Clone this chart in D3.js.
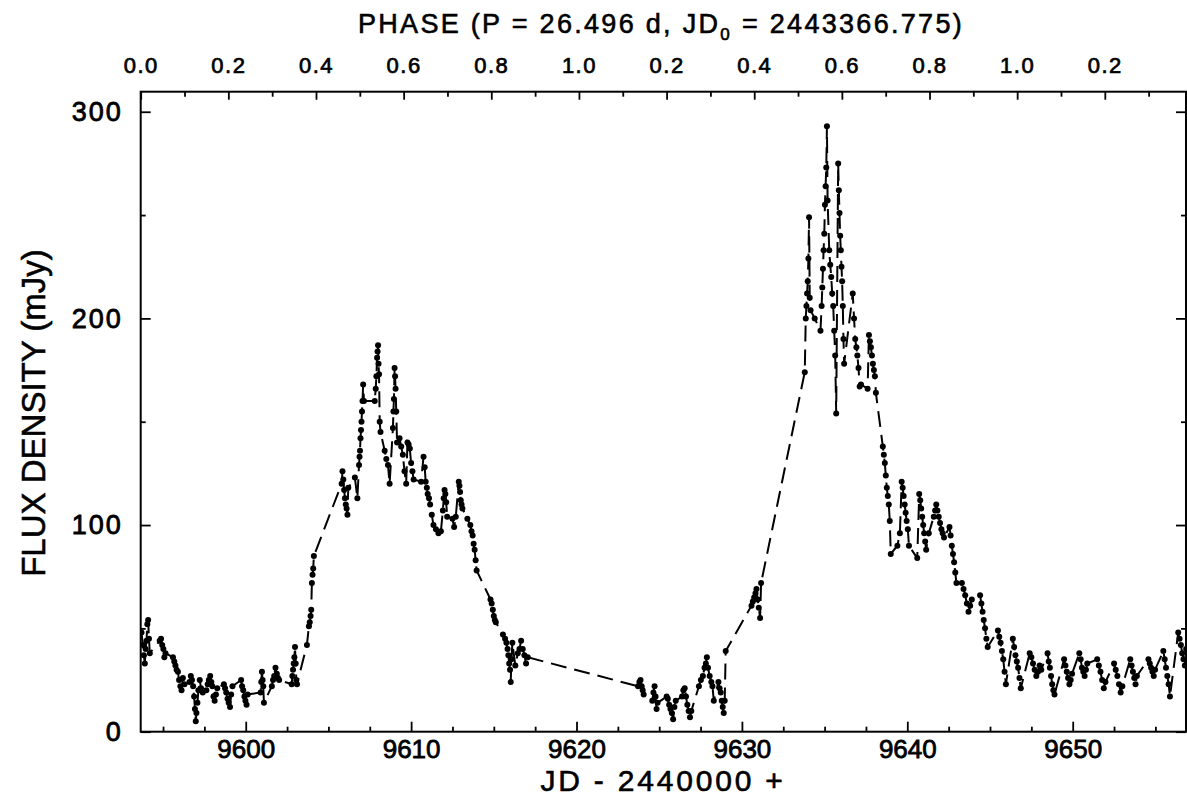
<!DOCTYPE html>
<html>
<head>
<meta charset="utf-8">
<script src="https://cdn.jsdelivr.net/npm/d3@7"></script>
<style>
  body { margin: 0; background: #fff; }
  text { font-family: "Liberation Sans", Arial, sans-serif; fill: #000; }
</style>
</head>
<body>
<div id="chart"></div>
<script>
const jd = [
  9593.70, 9593.78, 9593.84, 9593.90, 9593.95, 9594.00, 9594.05, 9594.10, 9594.15, 9594.20,
  9594.80, 9594.88, 9594.95, 9595.02, 9595.08, 9595.15,
  9595.60, 9595.68, 9595.75, 9595.82, 9595.90, 9595.97, 9596.05, 9596.12, 9596.20, 9596.30,
  9596.60, 9596.68, 9596.75, 9596.82, 9596.88, 9596.93, 9596.98, 9597.02, 9597.08, 9597.14, 9597.22, 9597.30, 9597.40,
  9597.62, 9597.70, 9597.77, 9597.85, 9597.92, 9597.98, 9598.05, 9598.12, 9598.20, 9598.28,
  9598.68, 9598.75, 9598.82, 9598.90, 9598.97, 9599.05, 9599.12, 9599.20,
  9599.72, 9599.78, 9599.85, 9599.92, 9599.98, 9600.05, 9600.12,
  9600.90, 9600.94, 9600.98, 9601.02, 9601.06, 9601.10,
  9601.58, 9601.65, 9601.72, 9601.80, 9601.88, 9601.95, 9602.02,
  9602.78, 9602.82, 9602.86, 9602.90, 9602.94, 9602.98, 9603.02, 9603.06, 9603.10,
  9603.70, 9603.82, 9603.87, 9603.92, 9603.96, 9604.00, 9604.04, 9604.08, 9604.12,
  9605.80, 9605.85, 9605.90, 9605.95, 9606.00, 9606.05, 9606.10, 9606.15, 9606.20,
  9606.60, 9606.75, 9606.85, 9606.88, 9606.91, 9606.94, 9606.97, 9607.00, 9607.03, 9607.06, 9607.10, 9607.15,
  9607.80, 9607.86, 9607.90, 9607.94, 9607.97, 9608.00, 9608.03, 9608.06, 9608.10, 9608.15,
  9608.40, 9608.50, 9608.60, 9608.70,
  9608.90, 9608.93, 9608.96, 9609.00, 9609.03, 9609.06, 9609.10, 9609.15,
  9609.30, 9609.40, 9609.50, 9609.60, 9609.70, 9609.78, 9609.85, 9609.92, 9610.00, 9610.08, 9610.15,
  9610.60, 9610.75, 9610.82, 9610.88, 9610.95, 9611.00,
  9611.08, 9611.15, 9611.25, 9611.35, 9611.50, 9611.65, 9611.80,
  9611.92, 9611.97, 9612.02, 9612.07, 9612.12, 9612.18,
  9612.50, 9612.60, 9612.70,
  9612.88, 9612.92, 9612.96, 9613.00, 9613.05, 9613.10,
  9613.40, 9613.58, 9613.65, 9613.72, 9613.78, 9613.84, 9613.90, 9613.96,
  9614.80, 9614.87, 9614.94, 9615.00, 9615.06, 9615.12,
  9615.55, 9615.68, 9615.76, 9615.83, 9615.88, 9615.93, 9615.98, 9616.02, 9616.07, 9616.12,
  9616.30, 9616.45, 9616.55, 9616.65, 9616.75, 9616.85, 9616.95, 9617.05,
  9623.72, 9623.80, 9623.87, 9623.94, 9624.00, 9624.06,
  9624.58, 9624.65, 9624.72, 9624.78, 9624.84, 9624.90,
  9625.45, 9625.52, 9625.60, 9625.68, 9625.76, 9625.84, 9625.92, 9626.00,
  9626.38, 9626.46, 9626.54, 9626.62, 9626.70, 9626.78, 9626.86, 9626.94,
  9627.40, 9627.52, 9627.64, 9627.74, 9627.82, 9627.88, 9627.95, 9628.05, 9628.15, 9628.22, 9628.30,
  9628.58, 9628.65, 9628.72, 9628.78, 9628.84, 9628.90, 9628.96, 9629.02,
  9630.58, 9630.66, 9630.74, 9630.82, 9630.88, 9630.95, 9631.02, 9631.10, 9631.16,
  9633.80, 9633.86, 9633.90, 9633.94, 9633.98, 9634.02, 9634.06, 9634.10, 9634.15,
  9634.40, 9634.75,
  9634.82, 9634.86, 9634.90, 9634.94, 9634.98, 9635.02, 9635.06, 9635.10, 9635.14, 9635.18,
  9635.28, 9635.34, 9635.40, 9635.46, 9635.52, 9635.58, 9635.64, 9635.70,
  9635.82, 9635.86, 9635.90, 9635.94, 9635.98, 9636.02, 9636.06, 9636.10, 9636.14, 9636.18,
  9636.70, 9636.78, 9636.85, 9636.92, 9636.98, 9637.05, 9637.12, 9637.20,
  9637.60, 9637.68, 9637.74, 9637.80, 9637.86, 9637.92, 9637.98, 9638.04, 9638.10,
  9638.52, 9638.58, 9638.64, 9638.70, 9638.76, 9638.82, 9638.88, 9638.94, 9639.00,
  9639.40, 9639.55, 9639.66, 9639.72, 9639.78, 9639.84, 9639.90, 9639.96, 9640.03, 9640.10,
  9640.60, 9640.72, 9640.78, 9640.84, 9640.90, 9640.96, 9641.02, 9641.08, 9641.14, 9641.30,
  9641.60, 9641.68, 9641.75, 9641.82, 9641.90, 9641.98, 9642.06, 9642.14, 9642.22,
  9642.55, 9642.62, 9642.69, 9642.76, 9642.83, 9642.90, 9642.97,
  9643.30, 9643.40, 9643.50, 9643.60, 9643.70, 9643.80, 9643.90,
  9644.40, 9644.48, 9644.55, 9644.62, 9644.70, 9644.78, 9644.86,
  9645.48, 9645.56, 9645.64, 9645.72, 9645.80, 9645.88, 9645.96,
  9646.38, 9646.46, 9646.54, 9646.62, 9646.70, 9646.78, 9646.86,
  9647.40, 9647.50, 9647.60, 9647.70, 9647.80, 9647.90, 9648.00, 9648.10,
  9648.48, 9648.55, 9648.62, 9648.69, 9648.76, 9648.83, 9648.90,
  9649.48, 9649.56, 9649.64, 9649.72, 9649.80, 9649.88, 9649.96,
  9650.40, 9650.48, 9650.56, 9650.64, 9650.72, 9650.80, 9650.88,
  9651.48, 9651.58, 9651.68, 9651.78, 9651.88, 9651.98,
  9652.50, 9652.60, 9652.70, 9652.80, 9652.90, 9653.00,
  9653.48, 9653.56, 9653.64, 9653.72, 9653.80, 9653.88,
  9654.58, 9654.66, 9654.74, 9654.82, 9654.90, 9654.98,
  9655.48, 9655.56, 9655.64, 9655.72, 9655.80, 9655.88,
  9656.38, 9656.46, 9656.54, 9656.62, 9656.70, 9656.78, 9656.86
];
// flux density (mJy), same layout as jd
const flux = [
  48, 42, 37, 33, 40, 44, 52, 54, 45, 38,
  44, 45, 42, 40, 36, 38,
  36, 34, 32, 30, 29, 25, 22, 20, 26, 23,
  24, 27, 25, 22, 17, 11, 5, 9, 14, 20, 25, 21, 19,
  20, 23, 25, 27, 24, 22, 17, 15, 18, 21,
  23, 21, 19, 16, 14, 12, 18, 22,
  25, 22, 20, 17, 15, 13, 18,
  19, 24, 29, 25, 22, 14,
  22, 25, 27, 31, 28, 26, 25,
  23, 27, 30, 33, 36, 41, 33, 25, 23,
  42, 51, 53, 56, 59, 72, 76, 79, 85,
  120, 126, 122, 117, 113, 110, 108, 105, 118,
  123, 113, 129, 133, 136, 142, 146, 150, 155, 160, 168, 160,
  160, 166, 172, 181, 184, 187, 178, 173, 150, 145,
  136, 132, 129, 120,
  147, 155, 161, 176, 172, 166, 155, 140,
  142, 138, 134, 126, 120, 140, 139, 137, 130, 126, 122,
  121, 133, 128, 121, 118, 115,
  113, 110, 105, 100, 98, 96, 97,
  107, 113, 117, 115, 111, 104,
  103, 99, 104,
  121, 119, 116, 112, 110, 108,
  103, 100, 97, 95, 91, 88, 83, 78,
  64, 62, 59, 56, 54, 53,
  47, 45, 43, 40, 37, 33, 30, 24, 35, 43,
  32, 38, 40, 44, 40, 37, 33, 36,
  22, 24, 25, 22, 20, 18,
  15, 19, 22, 17, 11, 14,
  17, 16, 13, 11, 9, 6, 12, 15,
  17, 20, 21, 17, 13, 10, 7, 10,
  22, 25, 27, 31, 33, 36, 31, 27, 24, 22, 15,
  24, 21, 19, 15, 12, 9, 15, 39,
  61, 63, 65, 67, 69, 64, 60, 55, 72,
  174, 200, 206, 212, 218, 229, 249, 210, 204,
  200, 194,
  206, 215, 224, 233, 241, 255, 264, 273, 293, 257,
  233, 226, 220, 212, 206, 194, 182, 154,
  275, 262, 251, 240, 233, 225, 218, 206, 190, 178,
  212, 200, 190, 186, 182, 176, 167, 168,
  166, 192, 189, 186, 182, 178, 175, 172, 164,
  138, 134, 130, 124, 118, 114, 110, 102, 86,
  90, 96, 121, 118, 114, 110, 106, 102, 98, 90,
  84, 115, 112, 108, 104, 100, 96, 92, 88, 96,
  104, 107, 110, 107, 104, 101, 98, 96, 94,
  99, 95, 90, 86, 82, 77, 72,
  72, 69, 66, 62, 58, 61, 64,
  66, 62, 58, 54, 50, 45, 41,
  49, 46, 43, 39, 35, 29, 23,
  45, 41, 37, 34, 31, 26, 21,
  38, 36, 33, 30, 27, 29, 32, 30,
  38, 34, 31, 27, 23, 20, 18,
  35, 32, 29, 26, 23, 25, 28,
  38, 35, 31, 29, 27, 30, 33,
  35, 32, 29, 25, 21, 24,
  33, 30, 27, 23, 19, 22,
  35, 32, 29, 26, 23, 27,
  35, 33, 31, 29, 27, 30,
  39, 35, 31, 27, 23, 17,
  48, 45, 42, 38, 35, 32, 40
];

const xDomain = [9593.65, 9656.85];
const yDomain = [0, 309.7];
const xMajor = [9600, 9610, 9620, 9630, 9640, 9650];
const yMajor = [0, 100, 200, 300];
const yMinor = [50, 150, 250];
const period = 26.496;

const data = jd.map((d, i) => ({ jd: d, flux: flux[i] }));

const W = 1187, H = 798;
const margin = { top: 91.7, right: 1, bottom: 66.3, left: 140.7 };
const width = W - margin.left - margin.right;
const height = H - margin.top - margin.bottom;

const svg = d3.select("#chart").append("svg")
    .attr("width", W)
    .attr("height", H);

const g = svg.append("g")
    .attr("transform", "translate(" + margin.left + "," + margin.top + ")");

const x = d3.scaleLinear().domain(xDomain).range([0, width]);
const y = d3.scaleLinear().domain(yDomain).range([height, 0]);
const phase = d3.scaleLinear()
    .domain([0, (xDomain[1] - xDomain[0]) / period])
    .range([0, width]);

g.append("clipPath").attr("id", "clip")
  .append("rect").attr("width", width).attr("height", height);

// minor x ticks every 2.5 days
const xMinor = d3.range(9595, 9657, 2.5).filter(v => xMajor.indexOf(v) < 0);

const axisStyle = sel => {
  sel.select(".domain").remove();
  sel.selectAll("line").attr("stroke", "#000").attr("stroke-width", 1.8);
  sel.selectAll("text")
      .style("font-size", "26px")
      .attr("stroke", "#000").attr("stroke-width", 0.8);
};

// bottom axis
g.append("g")
    .attr("transform", "translate(0," + height + ")")
    .call(d3.axisBottom(x).tickValues(xMajor).tickSize(-10).tickPadding(8).tickFormat(d3.format("d")))
    .call(axisStyle);
g.append("g")
    .attr("transform", "translate(0," + height + ")")
    .call(d3.axisBottom(x).tickValues(xMinor).tickSize(-5).tickFormat(""))
    .call(axisStyle);

// left axis
g.append("g")
    .call(d3.axisLeft(y).tickValues(yMajor).tickSize(-10).tickPadding(18))
    .call(axisStyle)
    .call(s => s.selectAll("text").style("font-size", "27px").style("letter-spacing", "2px"));
g.append("g")
    .call(d3.axisLeft(y).tickValues(yMinor).tickSize(-5).tickFormat(""))
    .call(axisStyle);

// right axis (ticks only)
g.append("g")
    .attr("transform", "translate(" + width + ",0)")
    .call(d3.axisRight(y).tickValues(yMajor).tickSize(-10).tickFormat(""))
    .call(axisStyle);
g.append("g")
    .attr("transform", "translate(" + width + ",0)")
    .call(d3.axisRight(y).tickValues(yMinor).tickSize(-5).tickFormat(""))
    .call(axisStyle);

// top phase axis
const phaseTicks = d3.range(0, phase.domain()[1], 0.1).map(v => Math.round(v * 10) / 10);
const phaseMajor = phaseTicks.filter(v => Math.round(v * 10) % 2 === 0);
const phaseMinor = phaseTicks.filter(v => Math.round(v * 10) % 2 !== 0);
const phaseLabel = p => {
  if (p === 0) return "0.0";
  const f = Math.round((p - Math.floor(p)) * 10) / 10;
  return f === 0 ? "1.0" : f.toFixed(1);
};
g.append("g")
    .call(d3.axisTop(phase).tickValues(phaseMajor).tickSize(-8).tickPadding(19).tickFormat(phaseLabel))
    .call(axisStyle)
    .call(s => s.selectAll("text").style("font-size", "22px").style("letter-spacing", "1.5px").attr("stroke-width", 0.7));
g.append("g")
    .call(d3.axisTop(phase).tickValues(phaseMinor).tickSize(-5).tickFormat(""))
    .call(axisStyle);

// frame
g.append("rect")
    .attr("width", width)
    .attr("height", height)
    .attr("fill", "none")
    .attr("stroke", "#000")
    .attr("stroke-width", 2);

// light curve
const line = d3.line()
    .x(d => x(d.jd))
    .y(d => y(d.flux));

const plot = g.append("g").attr("clip-path", "url(#clip)");

plot.append("path")
    .datum(data)
    .attr("d", line)
    .attr("fill", "none")
    .attr("stroke", "#000")
    .attr("stroke-width", 2)
    .attr("stroke-dasharray", "16,8");

plot.selectAll("circle")
    .data(data)
  .enter().append("circle")
    .attr("cx", d => x(d.jd))
    .attr("cy", d => y(d.flux))
    .attr("r", 3)
    .attr("fill", "#000");

// titles
const title = svg.append("text")
    .attr("x", 661)
    .attr("y", 33)
    .attr("text-anchor", "middle")
    .style("font-size", "27px")
    .style("letter-spacing", "2.3px")
    .attr("stroke", "#000").attr("stroke-width", 0.6);
title.append("tspan").text("PHASE (P = 26.496 d, JD");
title.append("tspan").attr("dy", 7).style("font-size", "17px").text("0");
title.append("tspan").attr("dy", -7).text(" = 2443366.775)");

svg.append("text")
    .attr("x", 663)
    .attr("y", 791)
    .attr("text-anchor", "middle")
    .style("font-size", "30px")
    .style("letter-spacing", "2.8px")
    .attr("stroke", "#000").attr("stroke-width", 0.6)
    .text("JD - 2440000 +");

svg.append("text")
    .attr("transform", "translate(45,413) rotate(-90)")
    .attr("text-anchor", "middle")
    .style("font-size", "33px")
    .attr("stroke", "#000").attr("stroke-width", 0.6)
    .text("FLUX DENSITY (mJy)");
</script>
</body>
</html>
